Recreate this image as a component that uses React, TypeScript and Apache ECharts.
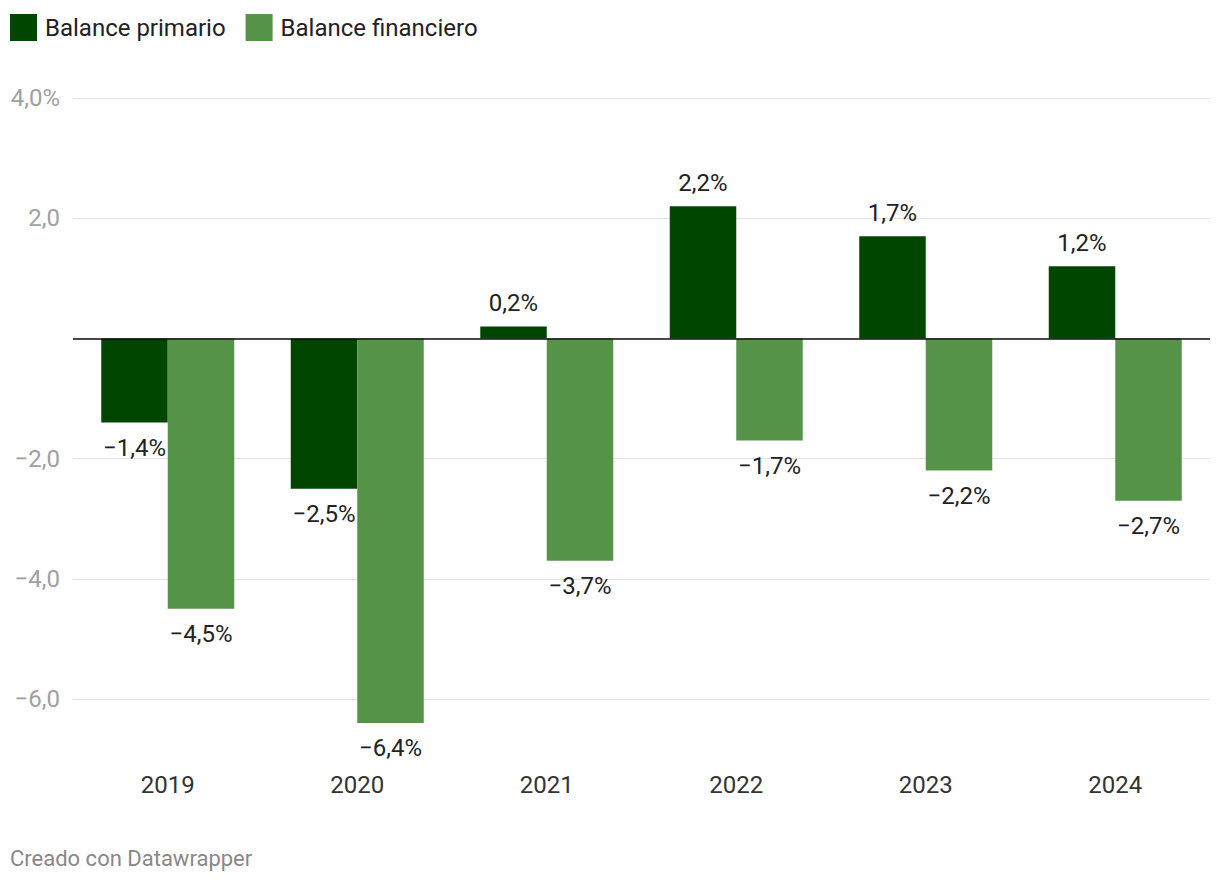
import React, { useEffect, useRef } from "react";
import * as echarts from "echarts";

const years = ["2019", "2020", "2021", "2022", "2023", "2024"];
const primario = [-1.4, -2.5, 0.2, 2.2, 1.7, 1.2];
const financiero = [-4.5, -6.4, -3.7, -1.7, -2.2, -2.7];
const seriesNames = ["Balance primario", "Balance financiero"];
const colors = ["#004600", "#559448"];

const fmt = (v: number) => (v < 0 ? "\u2212" : "") + Math.abs(v).toFixed(1).replace(".", ",") + "%";

const mkData = (arr: number[]) =>
  arr.map((v) => ({
    value: v,
    label: v >= 0 ? { position: "top", distance: 11 } : { position: "bottom", distance: 13 },
  }));

export default function App() {
  const ref = useRef<HTMLDivElement>(null);
  useEffect(() => {
    const chart = echarts.init(ref.current!, null, { renderer: "svg" });
    const font = "Roboto";
    const labelCfg = {
      show: true,
      fontSize: 24,
      color: "#222",
      fontFamily: font,
      formatter: (p: any) => fmt(p.value),
    };
    chart.setOption({
      animation: false,
      textStyle: { fontFamily: font },
      legend: {
        left: 5,
        top: 9,
        itemWidth: 27,
        itemHeight: 27,
        itemGap: 20,
        icon: "rect",
        textStyle: { fontSize: 24, color: "#222", fontFamily: font, padding: [0, 0, 0, 3] },
        data: seriesNames,
      },
      grid: { left: 73, right: 10, top: 98, bottom: 185 },
      xAxis: {
        type: "category",
        data: years,
        axisLine: { show: false, onZero: false },
        axisTick: { show: false },
        axisLabel: { margin: 74, fontSize: 24, color: "#333", fontFamily: font },
      },
      yAxis: {
        type: "value",
        min: -6,
        max: 4,
        interval: 2,
        axisLine: { show: false },
        axisTick: { show: false },
        splitLine: { lineStyle: { color: "#e2e2e2", width: 1 } },
        axisLabel: {
          margin: 13,
          fontSize: 24,
          color: "#a0a0a0",
          fontFamily: font,
          formatter: (v: number) => {
            if (v === 0) return "";
            const s = (v < 0 ? "\u2212" : "") + Math.abs(v).toFixed(1).replace(".", ",");
            return v === 4 ? s + "%" : s;
          },
        },
      },
      graphic: [
        {
          type: "text",
          left: 10,
          top: 847,
          style: { text: "Creado con Datawrapper", fontSize: 22, fill: "#888", fontFamily: font },
        },
      ],
      series: [
        {
          name: seriesNames[0],
          type: "bar",
          data: mkData(primario),
          barWidth: 66.5,
          barGap: "0%",
          clip: false,
          itemStyle: { color: colors[0] },
          label: labelCfg,
          markLine: {
            silent: true,
            symbol: "none",
            label: { show: false },
            lineStyle: { color: "#111", width: 1.5, type: "solid" },
            data: [{ yAxis: 0 }],
          },
        },
        {
          name: seriesNames[1],
          type: "bar",
          data: mkData(financiero),
          barWidth: 66.5,
          barGap: "0%",
          clip: false,
          itemStyle: { color: colors[1] },
          label: labelCfg,
        },
      ],
    });
    return () => chart.dispose();
  }, []);
  return (
    <div
      ref={ref}
      style={{ position: "absolute", left: 0, top: 0, width: 1220, height: 884 }}
    />
  );
}
